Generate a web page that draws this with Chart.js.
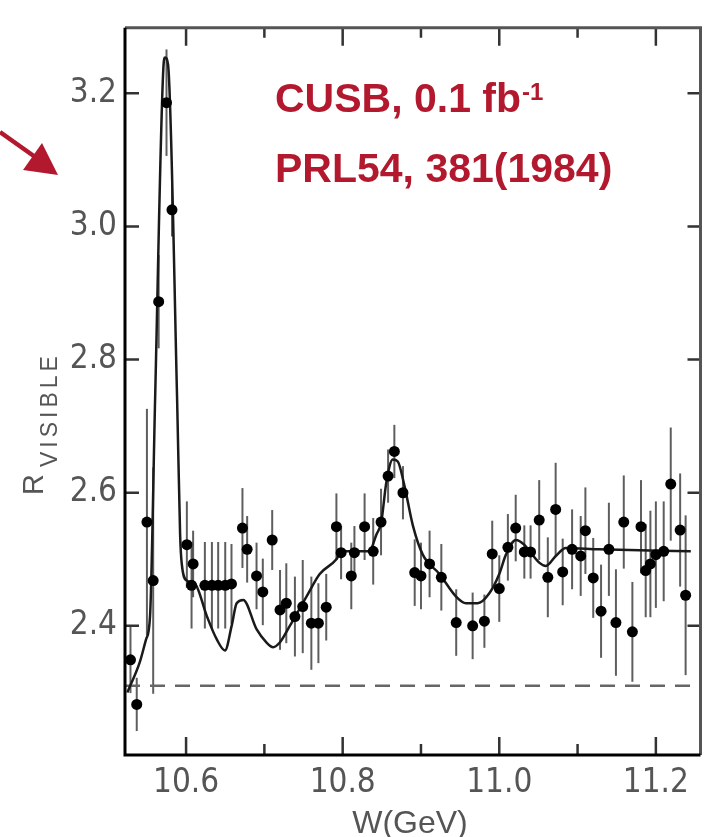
<!DOCTYPE html>
<html>
<head>
<meta charset="utf-8">
<title>CUSB R visible scan</title>
<script src="https://cdn.jsdelivr.net/npm/chart.js@4.4.1/dist/chart.umd.min.js"></script>
<style>
  html, body { margin: 0; padding: 0; background: #fff; }
  #wrap { width: 706px; height: 837px; }
</style>
</head>
<body>
<div id="wrap"><canvas id="scan" width="706" height="837"></canvas></div>
<script>
// measured points: W (GeV), R visible, error
const wVals = [10.529, 10.537, 10.550, 10.558, 10.565, 10.575, 10.582, 10.601, 10.609, 10.607,
  10.624, 10.633, 10.641, 10.650, 10.658, 10.672, 10.678, 10.690, 10.698, 10.710,
  10.720, 10.728, 10.739, 10.749, 10.760, 10.769, 10.779, 10.792, 10.798, 10.811,
  10.815, 10.828, 10.839, 10.849, 10.858, 10.866, 10.877, 10.892, 10.900, 10.911,
  10.926, 10.945, 10.966, 10.981, 10.991, 11.000, 11.011, 11.021, 11.032, 11.040,
  11.051, 11.062, 11.072, 11.081, 11.093, 11.104, 11.110, 11.120, 11.130, 11.140,
  11.149, 11.159, 11.170, 11.181, 11.187, 11.193, 11.200, 11.210, 11.219, 11.231, 11.238];
const rVals = [2.349, 2.282, 2.556, 2.468, 2.887, 3.186, 3.025, 2.522, 2.493, 2.461,
  2.461, 2.461, 2.461, 2.461, 2.463, 2.547, 2.515, 2.475, 2.451, 2.529,
  2.424, 2.434, 2.414, 2.429, 2.404, 2.404, 2.428, 2.549, 2.510, 2.475,
  2.510, 2.549, 2.512, 2.556, 2.625, 2.662, 2.600, 2.480, 2.475, 2.493,
  2.473, 2.405, 2.400, 2.407, 2.508, 2.456, 2.518, 2.547, 2.511, 2.511,
  2.559, 2.473, 2.575, 2.481, 2.515, 2.505, 2.543, 2.472, 2.422, 2.515,
  2.405, 2.556, 2.391, 2.549, 2.483, 2.493, 2.507, 2.512, 2.613, 2.544, 2.446];
const rErr = [0.05, 0.04, 0.17, 0.17, 0.07, 0.08, 0.04, 0.065, 0.05, 0.065,
  0.065, 0.065, 0.065, 0.065, 0.06, 0.06, 0.05, 0.05, 0.05, 0.045,
  0.06, 0.06, 0.06, 0.07, 0.07, 0.06, 0.05, 0.05, 0.04, 0.05,
  0.04, 0.05, 0.05, 0.05, 0.04, 0.04, 0.04, 0.05, 0.05, 0.05,
  0.05, 0.05, 0.05, 0.04, 0.05, 0.05, 0.05, 0.05, 0.04, 0.04,
  0.06, 0.06, 0.07, 0.05, 0.06, 0.06, 0.065, 0.06, 0.07, 0.07,
  0.08, 0.07, 0.075, 0.07, 0.07, 0.08, 0.08, 0.075, 0.085, 0.085, 0.12];

// fitted curve
const fitW = [10.525, 10.541, 10.549, 10.554, 10.5605, 10.571, 10.5732, 10.577, 10.5885, 10.5924,
  10.5945, 10.601, 10.6115, 10.6264, 10.6391, 10.6497, 10.6582, 10.6646, 10.673, 10.690,
  10.7028, 10.7112, 10.7197, 10.7325, 10.7538, 10.7707, 10.792, 10.798, 10.834, 10.843,
  10.8493, 10.8557, 10.864, 10.8704, 10.879, 10.8896, 10.9023, 10.9236, 10.9448, 10.9576,
  10.9724, 10.9873, 11.000, 11.0085, 11.0213, 11.0318, 11.051, 11.0595, 11.0722, 11.085,
  11.127, 11.2446];
const fitR = [2.300, 2.346, 2.380, 2.415, 2.743, 3.238, 3.254, 3.243, 2.743, 2.537,
  2.493, 2.468, 2.463, 2.415, 2.380, 2.363, 2.400, 2.434, 2.439, 2.395,
  2.375, 2.368, 2.375, 2.400, 2.444, 2.478, 2.500, 2.512, 2.512, 2.537,
  2.556, 2.615, 2.650, 2.647, 2.610, 2.551, 2.507, 2.478, 2.444, 2.434,
  2.434, 2.449, 2.478, 2.507, 2.529, 2.522, 2.495, 2.490, 2.505, 2.517,
  2.515, 2.512];

const continuumR = 2.31;

const xMin = 10.522, xMax = 11.257;
const yMin = 2.206, yMax = 3.2985;
const xTickVals = [10.6, 10.7, 10.8, 10.9, 11.0, 11.1, 11.2];
const xTickLabels = ['10.6', '', '10.8', '', '11.0', '', '11.2'];
const yTickVals = [2.4, 2.6, 2.8, 3.0, 3.2];
const yTickLabels = ['2.4', '2.6', '2.8', '3.0', '3.2'];

const tickFont = { family: "'Liberation Sans Narrow', 'DejaVu Sans Condensed', 'Liberation Sans', sans-serif", size: 33 };
const red = '#B3192E';

// error bars under the dots
const errorBars = {
    id: 'errorBars',
    beforeDatasetsDraw(chart) {
        const { ctx, scales: { x, y } } = chart;
        ctx.save();
        ctx.strokeStyle = 'rgba(40,40,40,0.75)';
        ctx.lineWidth = 2;
        wVals.forEach((w, i) => {
            const px = x.getPixelForValue(w);
            ctx.beginPath();
            ctx.moveTo(px, y.getPixelForValue(rVals[i] - rErr[i]));
            ctx.lineTo(px, y.getPixelForValue(rVals[i] + rErr[i]));
            ctx.stroke();
        });
        ctx.restore();
    }
};

// frame, inward ticks, titles, annotation
const decorations = {
    id: 'decorations',
    afterDraw(chart) {
        const { ctx, chartArea: a, scales: { x, y } } = chart;
        ctx.save();

        // inward ticks
        ctx.strokeStyle = '#333';
        ctx.lineWidth = 2.5;
        xTickVals.forEach((v, i) => {
            const px = x.getPixelForValue(v);
            const major = xTickLabels[i] !== '';
            ctx.beginPath();
            ctx.moveTo(px, a.bottom); ctx.lineTo(px, a.bottom - (major ? 18 : 11));
            ctx.moveTo(px, a.top); ctx.lineTo(px, a.top + (major ? 18 : 10));
            ctx.stroke();
        });
        yTickVals.forEach(v => {
            const py = y.getPixelForValue(v);
            ctx.beginPath();
            ctx.moveTo(a.left, py); ctx.lineTo(a.left + 14, py);
            ctx.moveTo(a.right, py); ctx.lineTo(a.right - 13, py);
            ctx.stroke();
        });

        // frame
        ctx.lineWidth = 3;
        ctx.strokeStyle = '#555';
        ctx.beginPath();
        ctx.moveTo(a.left, a.top); ctx.lineTo(a.right, a.top); ctx.lineTo(a.right, a.bottom);
        ctx.stroke();
        ctx.strokeStyle = '#000';
        ctx.beginPath();
        ctx.moveTo(a.left, a.top); ctx.lineTo(a.left, a.bottom); ctx.lineTo(a.right, a.bottom);
        ctx.stroke();

        // axis titles
        ctx.fillStyle = '#555';
        ctx.textAlign = 'center';
        ctx.textBaseline = 'alphabetic';
        ctx.font = "32px 'Liberation Sans Narrow', 'Liberation Sans', sans-serif";
        ctx.fillText('W(GeV)', 410, 833);

        ctx.save();
        ctx.translate(43, 495);
        ctx.rotate(-Math.PI / 2);
        ctx.textAlign = 'left';
        ctx.font = "29px 'Liberation Sans', sans-serif";
        ctx.fillText('R', 0, 0);
        ctx.font = "23px 'Liberation Sans', sans-serif";
        ctx.letterSpacing = '4px';
        ctx.fillText('VISIBLE', 28, 14);
        ctx.restore();

        // red annotation
        ctx.fillStyle = red;
        ctx.textAlign = 'left';
        ctx.font = "bold 41px 'Liberation Sans', Arial, sans-serif";
        const line1 = 'CUSB, 0.1 fb';
        ctx.fillText(line1, 275, 112);
        const w1 = ctx.measureText(line1).width;
        ctx.font = "bold 24px 'Liberation Sans', Arial, sans-serif";
        ctx.fillText('-1', 275 + w1 + 1, 100);
        ctx.font = "bold 41px 'Liberation Sans', Arial, sans-serif";
        ctx.fillText('PRL54, 381(1984)', 275, 182);

        // red arrow
        ctx.strokeStyle = red;
        ctx.lineWidth = 4.5;
        ctx.beginPath();
        ctx.moveTo(0, 132); ctx.lineTo(38, 159);
        ctx.stroke();
        ctx.beginPath();
        ctx.moveTo(58, 175); ctx.lineTo(23, 170); ctx.lineTo(42, 143);
        ctx.closePath();
        ctx.fill();

        ctx.restore();
    }
};

new Chart(document.getElementById('scan').getContext('2d'), {
    type: 'scatter',
    data: {
        datasets: [
            {
                label: 'data',
                data: wVals.map((w, i) => ({ x: w, y: rVals[i] })),
                pointRadius: 5.5,
                pointBackgroundColor: '#000',
                pointBorderWidth: 0,
                showLine: false,
                order: 0
            },
            {
                label: 'fit',
                data: fitW.map((w, i) => ({ x: w, y: fitR[i] })),
                showLine: true,
                pointRadius: 0,
                borderColor: '#1a1a1a',
                borderWidth: 2.5,
                cubicInterpolationMode: 'monotone',
                order: 1
            },
            {
                label: 'continuum',
                data: [{ x: xMin, y: continuumR }, { x: xMax, y: continuumR }],
                showLine: true,
                pointRadius: 0,
                borderColor: '#666',
                borderWidth: 2.5,
                borderDash: [15, 10],
                order: 2
            }
        ]
    },
    options: {
        responsive: false,
        animation: false,
        layout: { padding: { top: 12, right: 5, left: 0, bottom: 0 } },
        plugins: { legend: { display: false }, tooltip: { enabled: false } },
        scales: {
            x: {
                type: 'linear',
                min: xMin,
                max: xMax,
                afterBuildTicks: s => { s.ticks = xTickVals.map(v => ({ value: v })); },
                afterFit: s => { s.height = 82; },
                grid: { display: false, drawTicks: false },
                border: { display: false },
                ticks: {
                    autoSkip: false,
                    maxRotation: 0,
                    padding: 9,
                    color: '#555',
                    font: tickFont,
                    callback: (v, i) => xTickLabels[i]
                }
            },
            y: {
                type: 'linear',
                min: yMin,
                max: yMax,
                afterBuildTicks: s => { s.ticks = yTickVals.map(v => ({ value: v })); },
                afterFit: s => { s.width = 125; },
                grid: { display: false, drawTicks: false },
                border: { display: false },
                ticks: {
                    autoSkip: false,
                    padding: 8,
                    color: '#555',
                    font: tickFont,
                    callback: (v, i) => yTickLabels[i]
                }
            }
        }
    },
    plugins: [errorBars, decorations]
});
</script>
</body>
</html>
